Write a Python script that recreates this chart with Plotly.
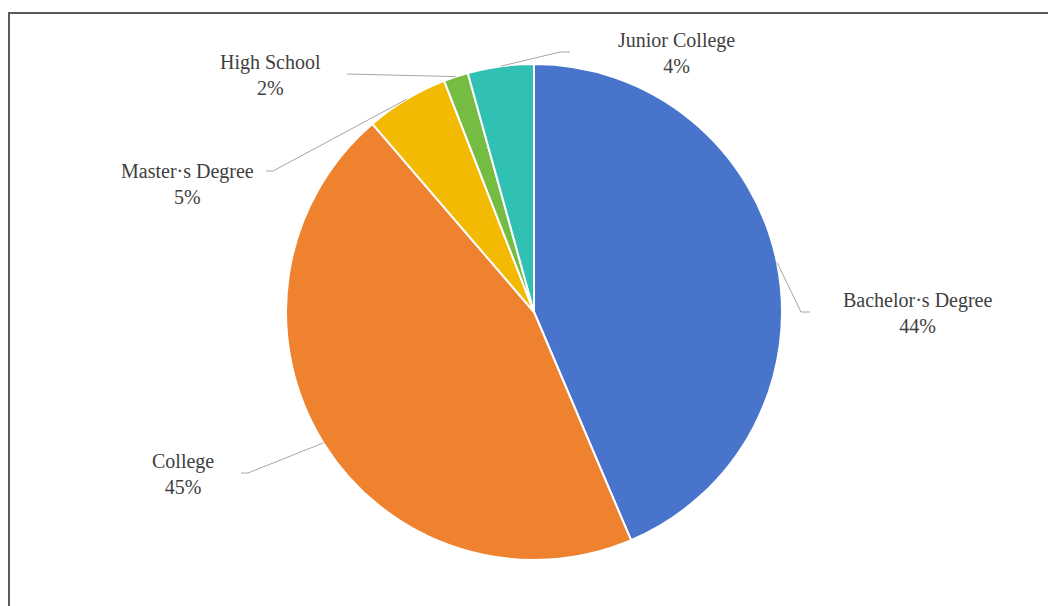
import math
import plotly.graph_objects as go

# Education level distribution
categories = ["Bachelor·s Degree", "College", "Master·s Degree", "High School", "Junior College"]
shares = [43.6, 45.1, 5.4, 1.6, 4.3]
colors = ["#4874CB", "#EE822F", "#F2BA02", "#75BD42", "#30C0B4"]

W, H = 1048, 606
CX, CY, R = 534, 312, 248  # pie centre and radius in pixels

# Label block centres, elbow points and leader-line ends (pixels)
label_pos = [(917, 313), (183, 474), (187, 184), (270, 75), (676, 53)]
elbow_pos = [(801, 312), (248, 473), (273, 171), (347, 74), (560, 52)]
end_pos = [(810, 312), (241, 473), (266, 171), (347, 74), (570, 52)]


def px(x):
    return x / W


def py(y):
    return 1 - y / H


fig = go.Figure(
    go.Pie(
        labels=categories,
        values=shares,
        sort=False,
        direction="clockwise",
        rotation=0,
        marker=dict(colors=colors, line=dict(color="white", width=2)),
        textinfo="none",
        hoverinfo="label+percent",
        domain=dict(x=[px(CX - R), px(CX + R)], y=[py(CY + R), py(CY - R)]),
        showlegend=False,
    )
)

total = sum(shares)
shapes = [
    dict(type="rect", xref="paper", yref="paper",
         x0=px(9), x1=px(W + 20), y0=py(H + 20), y1=py(13),
         line=dict(color="#5a5a5a", width=2), fillcolor="rgba(0,0,0,0)", layer="above")
]
annotations = []
cum = 0.0
for name, v, lp, ep, nd in zip(categories, shares, label_pos, elbow_pos, end_pos):
    mid = (cum + v / 2) / total * 2 * math.pi
    cum += v
    ax = CX + R * math.sin(mid)
    ay = CY - R * math.cos(mid)
    path = f"M {px(ax)},{py(ay)} L {px(ep[0])},{py(ep[1])} L {px(nd[0])},{py(nd[1])}"
    shapes.append(dict(type="path", xref="paper", yref="paper", path=path,
                       line=dict(color="#a6a6a6", width=1)))
    pct = round(v / total * 100)
    annotations.append(dict(
        x=px(lp[0]), y=py(lp[1]), xref="paper", yref="paper",
        text=f"{name}<br>{pct}%", showarrow=False,
        xanchor="center", yanchor="middle", align="center",
        font=dict(family="Liberation Serif, Times New Roman, serif", size=20, color="#404040"),
    ))

fig.update_layout(
    width=W, height=H,
    margin=dict(l=0, r=0, t=0, b=0),
    paper_bgcolor="white",
    plot_bgcolor="white",
    shapes=shapes,
    annotations=annotations,
)

fig.write_html("out.html")
